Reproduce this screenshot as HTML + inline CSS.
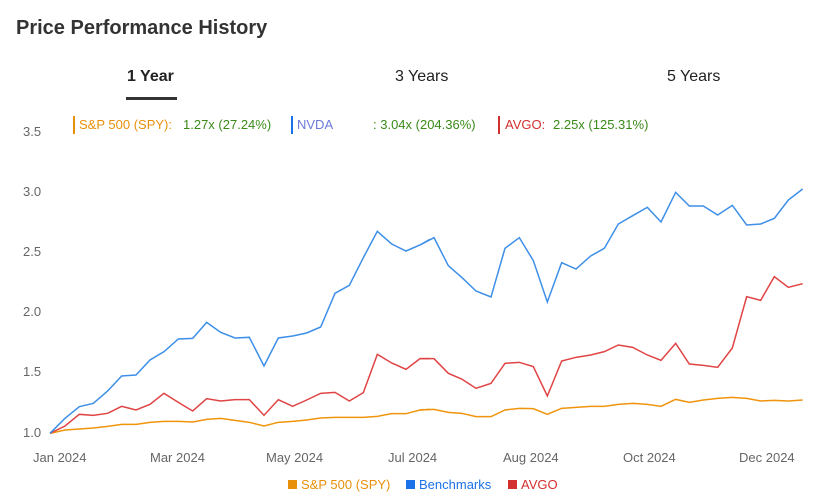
<!DOCTYPE html>
<html><head><meta charset="utf-8"><style>
body{margin:0;background:#fff;font-family:"Liberation Sans",Arial,sans-serif;}
.wrap{position:relative;width:830px;height:500px;overflow:hidden;}
.t{position:absolute;white-space:nowrap;}
</style></head><body><div class="wrap">
<div class="t" style="left:16px;top:17px;font-size:20px;font-weight:bold;color:#333">Price Performance History</div>
<div class="t" style="left:127px;top:68px;font-size:16px;font-weight:bold;color:#222">1 Year</div>
<div style="position:absolute;left:126px;top:97px;width:51px;height:3px;background:#333"></div>
<div class="t" style="left:395px;top:68px;font-size:16px;color:#222">3 Years</div>
<div class="t" style="left:667px;top:68px;font-size:16px;color:#222">5 Years</div>

<div style="position:absolute;left:73px;top:116px;width:2px;height:18px;background:#e8900c"></div>
<div class="t" style="left:79px;top:117px;font-size:13px;color:#e8900c">S&amp;P 500 (SPY):</div>
<div class="t" style="left:183px;top:117px;font-size:13px;color:#3a8a1a">1.27x (27.24%)</div>
<div style="position:absolute;left:291px;top:116px;width:2px;height:18px;background:#1a73e8"></div>
<div class="t" style="left:297px;top:117px;font-size:13px;color:#6a7ad8">NVDA</div>
<div class="t" style="left:373px;top:117px;font-size:13px;color:#3a8a1a">: 3.04x (204.36%)</div>
<div style="position:absolute;left:498px;top:116px;width:2px;height:18px;background:#d32f2f"></div>
<div class="t" style="left:505px;top:117px;font-size:13px;color:#d32f2f">AVGO:</div>
<div class="t" style="left:553px;top:117px;font-size:13px;color:#3a8a1a">2.25x (125.31%)</div>

<div class="t" style="left:23px;top:124px;font-size:13px;color:#666">3.5</div>
<div class="t" style="left:23px;top:184px;font-size:13px;color:#666">3.0</div>
<div class="t" style="left:23px;top:244px;font-size:13px;color:#666">2.5</div>
<div class="t" style="left:23px;top:304px;font-size:13px;color:#666">2.0</div>
<div class="t" style="left:23px;top:364px;font-size:13px;color:#666">1.5</div>
<div class="t" style="left:23px;top:425px;font-size:13px;color:#666">1.0</div>

<div class="t" style="left:33px;top:450px;font-size:13px;color:#666">Jan 2024</div>
<div class="t" style="left:150px;top:450px;font-size:13px;color:#666">Mar 2024</div>
<div class="t" style="left:266px;top:450px;font-size:13px;color:#666">May 2024</div>
<div class="t" style="left:388px;top:450px;font-size:13px;color:#666">Jul 2024</div>
<div class="t" style="left:503px;top:450px;font-size:13px;color:#666">Aug 2024</div>
<div class="t" style="left:623px;top:450px;font-size:13px;color:#666">Oct 2024</div>
<div class="t" style="left:739px;top:450px;font-size:13px;color:#666">Dec 2024</div>

<div style="position:absolute;left:288px;top:480px;width:9px;height:9px;background:#e8900c"></div>
<div class="t" style="left:301px;top:477px;font-size:13px;color:#e8900c">S&amp;P 500 (SPY)</div>
<div style="position:absolute;left:406px;top:480px;width:9px;height:9px;background:#1a73e8"></div>
<div class="t" style="left:419px;top:477px;font-size:13px;color:#1a73e8">Benchmarks</div>
<div style="position:absolute;left:508px;top:480px;width:9px;height:9px;background:#d32f2f"></div>
<div class="t" style="left:521px;top:477px;font-size:13px;color:#d32f2f">AVGO</div>

<svg width="830" height="500" style="position:absolute;left:0;top:0" fill="none" stroke-width="1.5">
<g transform="translate(30,170) scale(0.33333)">
<polyline vector-effect="non-scaling-stroke" stroke="#f0940c" points="60,790 105,780 148,777 190,774 233,769 275,763 318,763 360,757 402,754 445,754 488,756 530,748 572,745 615,751 658,757 702,768 745,757 788,754 830,750 872,744 915,742 958,742 1000,742 1042,739 1085,731 1128,731 1170,720 1200,718"/>
<polyline vector-effect="non-scaling-stroke" stroke="#e04444" points="60,790 105,768 148,733 190,736 233,730 275,709 318,720 360,703 402,670 445,697 488,723 530,686 572,693 615,689 658,689 702,736 745,689 788,709 830,690 872,670 915,667 958,693 1000,668 1042,553 1085,579 1128,598 1170,566 1200,566"/>
<polyline vector-effect="non-scaling-stroke" stroke="#3d8fe8" points="60,790 105,745 148,710 190,700 233,663 275,618 318,615 360,570 402,545 445,507 488,505 530,457 572,487 615,504 658,502 702,588 745,504 788,498 830,489 872,471 915,370 958,346 1000,263 1042,184 1085,222 1128,243 1170,225 1200,208"/>
</g>
<g transform="translate(420,170) scale(0.33333)">
<polyline vector-effect="non-scaling-stroke" stroke="#f0940c" points="0,720 42,718 85,727 125,730 168,740 213,740 255,720 298,715 340,716 382,733 425,715 468,712 512,709 553,709 595,703 638,700 682,703 723,709 767,688 808,697 850,690 893,685 937,682 980,685 1022,693 1063,691 1105,693 1148,690"/>
<polyline vector-effect="non-scaling-stroke" stroke="#e04444" points="0,566 42,566 85,610 125,627 168,655 213,640 255,580 298,577 340,590 382,678 425,573 468,562 512,555 553,545 595,525 638,532 682,555 723,571 767,520 808,582 850,586 893,592 937,534 980,380 1022,391 1063,320 1105,352 1148,341"/>
<polyline vector-effect="non-scaling-stroke" stroke="#3d8fe8" points="0,225 42,203 85,287 125,322 168,363 213,381 255,235 298,203 340,272 382,396 425,278 468,297 512,258 553,235 595,162 638,137 682,112 723,156 767,67 808,108 850,108 893,135 937,106 980,165 1022,162 1063,145 1105,90 1148,57"/>
</g>
</svg>
</div></body></html>
